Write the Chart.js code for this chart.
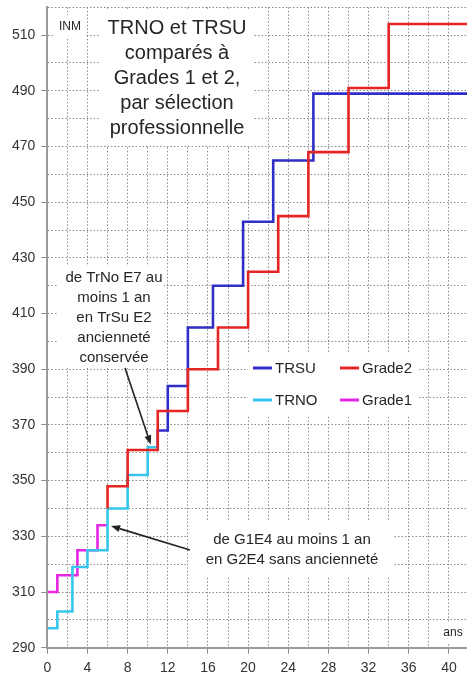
<!DOCTYPE html>
<html>
<head>
<meta charset="utf-8">
<script src="https://cdn.jsdelivr.net/npm/chart.js@4/dist/chart.umd.min.js"></script>
<style>
html,body{margin:0;padding:0;background:#fff;}
canvas{display:block;}
</style>
</head>
<body>
<canvas id="c" width="467" height="675"></canvas>
<script>
// ---- data (years of service -> INM) ----
const grade1Years = [0, 1, 3, 5, 6];
const grade1Inm   = [310, 316, 325, 334, 334];
const trnoYears   = [0, 1, 2.5, 4, 6, 8, 10, 11];
const trnoInm     = [297, 303, 319, 325, 340, 352, 362, 362];
const grade2Years = [6, 6, 8, 11, 14, 17, 20, 23, 26, 30, 34, 42];
const grade2Inm   = [340, 348, 361, 375, 390, 405, 425, 445, 468, 491, 514, 514];
const trsuYears   = [11, 11, 12, 14, 16.5, 19.5, 22.5, 26.5, 42];
const trsuInm     = [362, 368, 384, 405, 420, 443, 465, 489, 489];

const xTickLabels = [0, 4, 8, 12, 16, 20, 24, 28, 32, 36, 40];
const yTickLabels = [290, 310, 330, 350, 370, 390, 410, 430, 450, 470, 490, 510];
const xGridValues = [0,2,4,6,8,10,12,14,16,18,20,22,24,26,28,30,32,34,36,38,40];
const yGridValues = [290,300,310,320,330,340,350,360,370,380,390,400,410,420,430,440,450,460,470,480,490,500,510,520];

const titleLines = ['TRNO et TRSU', 'comparés à', 'Grades 1 et 2,', 'par sélection', 'professionnelle'];
const note1Lines = ['de TrNo E7 au', 'moins 1 an', 'en TrSu E2', 'ancienneté', 'conservée'];
const note2Lines = ['de G1E4 au moins 1 an', 'en G2E4 sans ancienneté'];

const FONT = '"Liberation Sans", Arial, Helvetica, sans-serif';
const pts = (xs, ys) => xs.map((x, i) => ({x: x, y: ys[i]}));

// ---- layout of overlays (pixels) ----
const whiteBoxes = [
  {x: 100, y: 10, w: 153, h: 136},
  {x: 55, y: 15, w: 31, h: 24},
  {x: 58, y: 266, w: 106, h: 102},
  {x: 188, y: 521, w: 205, h: 56},
  {x: 248, y: 352, w: 170, h: 63},
  {x: 440, y: 622, w: 27, h: 22}
];
const legendItems = [
  {label: 'TRSU', x: 253, y: 368},
  {label: 'Grade2', x: 340, y: 368},
  {label: 'TRNO', x: 253, y: 400},
  {label: 'Grade1', x: 340, y: 400}
];

const overlay = {
  id: 'overlay',
  beforeDatasetsDraw(chart) {
    const ctx = chart.ctx;
    ctx.save();
    ctx.fillStyle = '#ffffff';
    whiteBoxes.forEach(b => ctx.fillRect(b.x, b.y, b.w, b.h));
    ctx.restore();
  },
  afterDatasetsDraw(chart) {
    const ctx = chart.ctx;
    const xs = chart.scales.x, ys = chart.scales.y;
    ctx.save();
    ctx.fillStyle = '#262626';
    ctx.textAlign = 'center';
    ctx.textBaseline = 'middle';
    ctx.font = '20px ' + FONT;
    titleLines.forEach((t, i) => ctx.fillText(t, 177, 28 + i * 25));
    ctx.font = '15px ' + FONT;
    note1Lines.forEach((t, i) => ctx.fillText(t, 114, 278 + i * 20));
    note2Lines.forEach((t, i) => ctx.fillText(t, 292, 540 + i * 20));
    ctx.font = '12px ' + FONT;
    ctx.fillText('INM', 70, 27);
    ctx.fillText('ans', 453, 633);

    // legend
    ctx.textAlign = 'left';
    ctx.font = '15px ' + FONT;
    legendItems.forEach(it => {
      const ds = chart.data.datasets.find(d => d.label === it.label);
      ctx.strokeStyle = ds.borderColor;
      ctx.lineWidth = 3;
      ctx.beginPath();
      ctx.moveTo(it.x, it.y);
      ctx.lineTo(it.x + 19, it.y);
      ctx.stroke();
      ctx.fillStyle = '#262626';
      ctx.fillText(it.label, it.x + 22, it.y + 1);
    });

    // arrows
    const arrow = (x1, y1, x2, y2) => {
      const a = Math.atan2(y2 - y1, x2 - x1);
      const L = 9, W = 3.5;
      const bx = x2 - L * Math.cos(a), by = y2 - L * Math.sin(a);
      ctx.strokeStyle = '#222';
      ctx.fillStyle = '#222';
      ctx.lineWidth = 1.6;
      ctx.beginPath();
      ctx.moveTo(x1, y1);
      ctx.lineTo(bx, by);
      ctx.stroke();
      ctx.beginPath();
      ctx.moveTo(x2, y2);
      ctx.lineTo(bx + W * Math.sin(a), by - W * Math.cos(a));
      ctx.lineTo(bx - W * Math.sin(a), by + W * Math.cos(a));
      ctx.closePath();
      ctx.fill();
    };
    arrow(125, 368, xs.getPixelForValue(10.3), ys.getPixelForValue(363));
    arrow(190, 550, xs.getPixelForValue(6.35), ys.getPixelForValue(333.7));
    ctx.restore();
  }
};

const lineDs = (label, data, color, order) => ({
  label: label,
  data: data,
  borderColor: color,
  backgroundColor: color,
  borderWidth: 2.6,
  pointRadius: 0,
  stepped: true,
  fill: false,
  order: order
});

new Chart(document.getElementById('c'), {
  type: 'line',
  data: {
    datasets: [
      lineDs('TRSU', pts(trsuYears, trsuInm), '#2f2fc8', 2),
      lineDs('Grade2', pts(grade2Years, grade2Inm), '#e52424', 1),
      lineDs('TRNO', pts(trnoYears, trnoInm), '#36c6ec', 3),
      lineDs('Grade1', pts(grade1Years, grade1Inm), '#e426e4', 4)
    ]
  },
  options: {
    responsive: false,
    animation: false,
    events: [],
    layout: {padding: {top: 7.3, left: 0, right: 0, bottom: 0}},
    plugins: {legend: {display: false}, tooltip: {enabled: false}},
    scales: {
      x: {
        type: 'linear',
        min: 0,
        max: 41.8,
        afterBuildTicks: s => { s.ticks = xGridValues.map(v => ({value: v})); },
        afterFit: s => { s.height = 27.3; s.paddingLeft = 0; s.paddingRight = 0; },
        ticks: {
          autoSkip: false,
          maxRotation: 0,
          padding: 7,
          color: '#333',
          font: {family: FONT, size: 14, lineHeight: 1},
          callback: v => xTickLabels.includes(v) ? String(v) : ''
        },
        grid: {
          color: '#8a8a8a',
          lineWidth: 1,
          tickLength: 6,
          tickColor: c => (c.tick && xTickLabels.includes(c.tick.value)) ? '#8a8a8a' : 'rgba(0,0,0,0)'
        },
        border: {display: true, color: '#9a9a9a', width: 2, dash: [1.5, 2], z: 1}
      },
      y: {
        type: 'linear',
        min: 290,
        max: 520,
        afterBuildTicks: s => { s.ticks = yGridValues.map(v => ({value: v})); },
        afterFit: s => { s.width = 47.3; s.paddingTop = 0; s.paddingBottom = 0; },
        ticks: {
          autoSkip: false,
          padding: 6,
          color: '#333',
          font: {family: FONT, size: 14, lineHeight: 1},
          callback: v => yTickLabels.includes(v) ? String(v) : ''
        },
        grid: {
          color: '#8a8a8a',
          lineWidth: 1,
          tickLength: 6,
          tickColor: c => (c.tick && yTickLabels.includes(c.tick.value)) ? '#8a8a8a' : 'rgba(0,0,0,0)'
        },
        border: {display: true, color: '#9a9a9a', width: 2, dash: [1.5, 2], z: 1}
      }
    }
  },
  plugins: [overlay]
});
</script>
</body>
</html>
